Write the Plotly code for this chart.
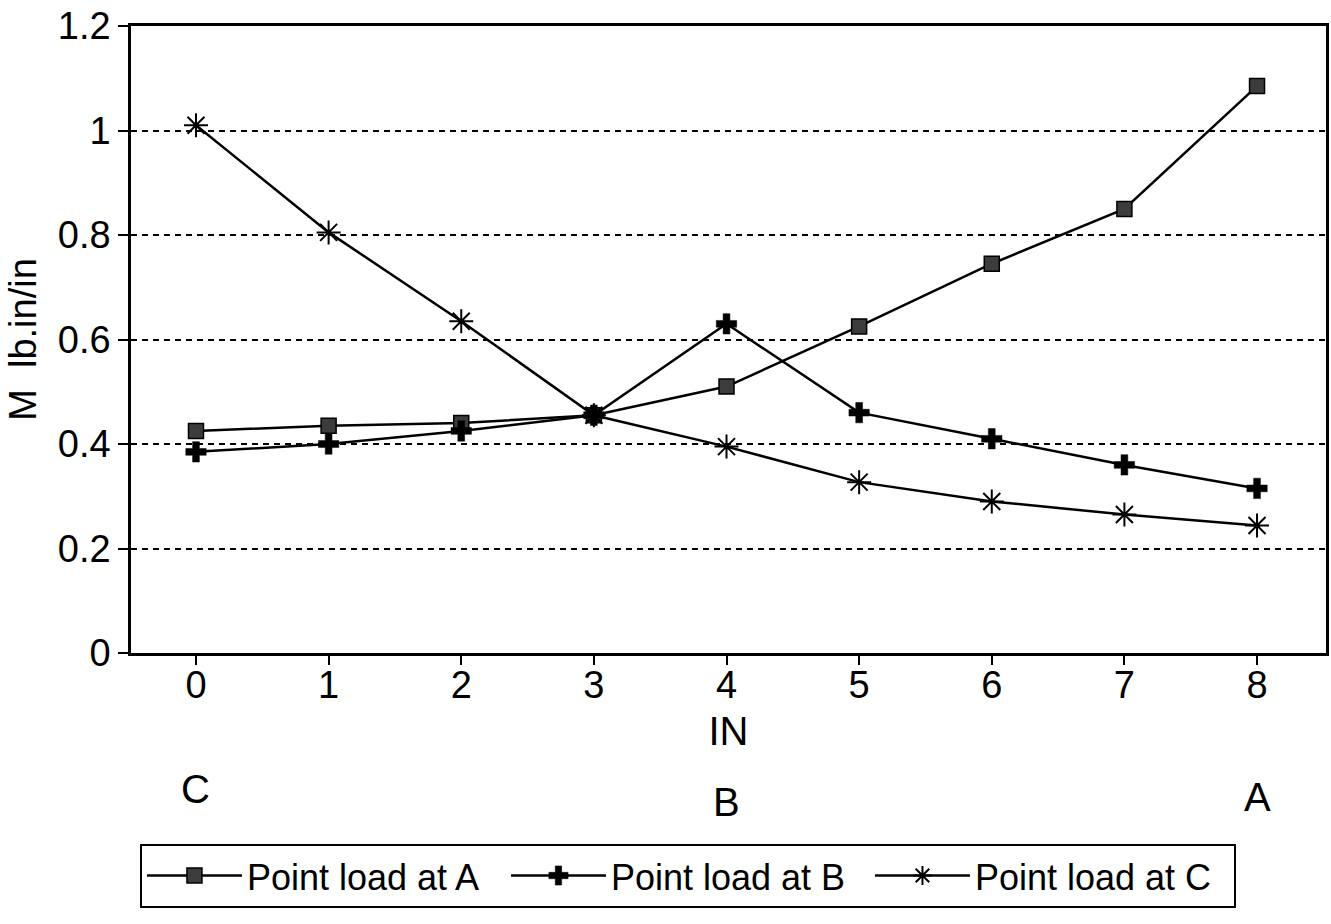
import plotly.graph_objects as go

x_vals = [0, 1, 2, 3, 4, 5, 6, 7, 8]
load_a = [0.425, 0.435, 0.44, 0.455, 0.51, 0.625, 0.745, 0.85, 1.085]
load_b = [0.385, 0.40, 0.425, 0.455, 0.63, 0.46, 0.41, 0.36, 0.315]
load_c = [1.01, 0.805, 0.635, 0.455, 0.395, 0.327, 0.29, 0.265, 0.244]

series_names = ["Point load at A", "Point load at B", "Point load at C"]
point_labels = ["C", "B", "A"]
point_label_x = [0, 4, 8]
point_label_y = [-0.217, -0.237, -0.230]

y_ticks = [0, 0.2, 0.4, 0.6, 0.8, 1.0, 1.2]
y_tick_text = ["0", "0.2", "0.4", "0.6", "0.8", "1", "1.2"]

FONT = "Liberation Sans, Arial, sans-serif"

fig = go.Figure()
fig.add_trace(go.Scatter(
    x=x_vals, y=load_a, name=series_names[0], mode="lines+markers",
    line=dict(color="black", width=2.5),
    marker=dict(symbol="square", size=15, color="#3c3c3c",
                line=dict(color="black", width=1.5)),
))
fig.add_trace(go.Scatter(
    x=x_vals, y=load_b, name=series_names[1], mode="lines+markers",
    line=dict(color="black", width=2.5),
    marker=dict(symbol="cross", size=17, color="black",
                line=dict(color="black", width=0.5)),
))
fig.add_trace(go.Scatter(
    x=x_vals, y=load_c, name=series_names[2], mode="lines+markers",
    line=dict(color="black", width=2.5),
    marker=dict(symbol="asterisk-open", size=20, color="black",
                line=dict(color="black", width=2)),
))

for lbl, lx, ly in zip(point_labels, point_label_x, point_label_y):
    fig.add_annotation(x=lx, y=ly, xref="x", yref="paper", text=lbl,
                       showarrow=False, font=dict(family=FONT, size=40, color="black"),
                       xanchor="center", yanchor="middle")

fig.update_layout(
    width=1331, height=924,
    margin=dict(l=131, r=2, t=26, b=271),
    paper_bgcolor="white", plot_bgcolor="white",
    font=dict(family=FONT, size=37, color="black"),
    showlegend=True,
    legend=dict(
        orientation="h", x=0.0075, y=-0.304, xanchor="left", yanchor="top",
        bordercolor="black", borderwidth=2, bgcolor="white",
        font=dict(family=FONT, size=36, color="black"),
        entrywidth=254, entrywidthmode="pixels",
        itemwidth=95, itemsizing="trace",
    ),
    xaxis=dict(
        range=[-0.49, 8.52], tickmode="array", tickvals=x_vals,
        ticks="outside", ticklen=9, tickwidth=2, tickcolor="black",
        showline=True, linecolor="black", linewidth=2.5, mirror=True,
        showgrid=False, zeroline=False, ticklabelstandoff=-12,
        tickfont=dict(family=FONT, size=38),
        title=dict(text="IN", font=dict(family=FONT, size=40), standoff=12),
    ),
    yaxis=dict(
        range=[0, 1.2], tickmode="array", tickvals=y_ticks, ticktext=y_tick_text,
        ticks="outside", ticklen=10, tickwidth=2, tickcolor="black",
        showline=True, linecolor="black", linewidth=2.5, mirror=True,
        showgrid=True, gridcolor="black", gridwidth=2, griddash="6px,5px",
        zeroline=False,
        tickfont=dict(family=FONT, size=38),
        title=dict(text="M  lb.in/in", font=dict(family=FONT, size=38), standoff=10),
    ),
)

fig.write_html("out.html")
